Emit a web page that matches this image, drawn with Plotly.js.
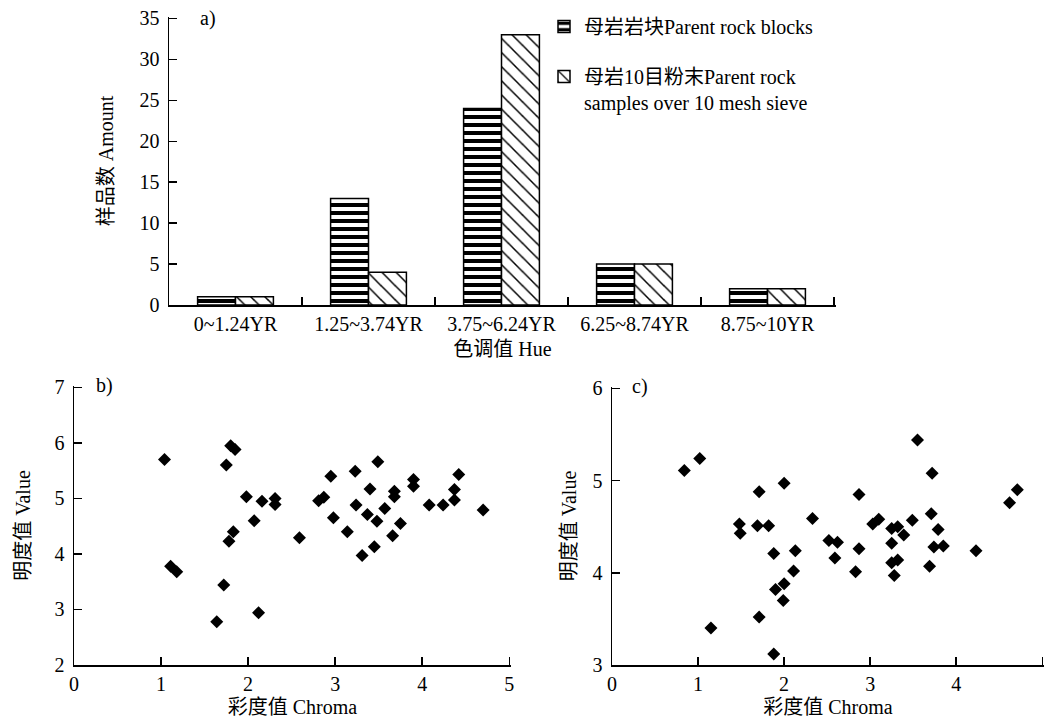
<!DOCTYPE html>
<html>
<head>
<meta charset="utf-8">
<script src="https://cdn.plot.ly/plotly-3.0.1.min.js"></script>
<style>html,body{margin:0;padding:0;background:#fff;}#chart{width:1045px;height:723px;}</style>
</head>
<body>
<div id="chart"></div>
<script>
// ---- data ----
const hueCategories = ['0~1.24YR', '1.25~3.74YR', '3.75~6.24YR', '6.25~8.74YR', '8.75~10YR'];
const blockCounts = [1, 13, 24, 5, 2];
const powderCounts = [1, 4, 33, 5, 2];

const blockChroma = [1.04, 1.11, 1.18, 1.80, 1.85, 1.75, 1.98, 2.07, 1.83, 1.78, 1.72, 1.64, 2.12,
  2.16, 2.31, 2.31, 2.59, 2.81, 2.87, 2.95, 2.98, 3.14, 3.23, 3.24, 3.31, 3.40, 3.37, 3.45, 3.49,
  3.48, 3.57, 3.66, 3.68, 3.68, 3.75, 3.90, 3.90, 4.08, 4.24, 4.37, 4.37, 4.42, 4.70];
const blockValue = [5.70, 3.78, 3.68, 5.95, 5.88, 5.60, 5.03, 4.60, 4.40, 4.23, 3.44, 2.78, 2.94,
  4.95, 5.00, 4.89, 4.29, 4.96, 5.02, 5.40, 4.65, 4.40, 5.49, 4.88, 3.97, 5.17, 4.71, 4.13, 5.66,
  4.59, 4.82, 4.33, 5.13, 5.03, 4.55, 5.34, 5.22, 4.88, 4.88, 4.97, 5.16, 5.43, 4.79];

const powderChroma = [0.84, 1.02, 1.15, 1.71, 1.48, 1.49, 1.69, 1.82, 1.88, 2.00, 1.90, 2.00, 1.99, 1.71, 1.88,
  2.13, 2.11, 2.33, 2.52, 2.62, 2.59, 2.87, 2.87, 2.83, 3.03, 3.10, 3.25, 3.32, 3.39, 3.25, 3.25, 3.32,
  3.28, 3.49, 3.55, 3.72, 3.71, 3.79, 3.74, 3.85, 3.69, 4.23, 4.62, 4.71];
const powderValue = [5.11, 5.24, 3.40, 4.88, 4.53, 4.43, 4.51, 4.51, 4.21, 4.97, 3.82, 3.88, 3.70, 3.52, 3.12,
  4.24, 4.02, 4.59, 4.35, 4.33, 4.16, 4.85, 4.26, 4.01, 4.53, 4.58, 4.48, 4.50, 4.41, 4.32, 4.11, 4.14,
  3.97, 4.57, 5.44, 5.08, 4.64, 4.47, 4.28, 4.29, 4.07, 4.24, 4.76, 4.90];

// ---- drawing ----
const FONT = "'Liberation Serif', 'Noto Sans CJK SC', serif";
const FS = 20;

const traces = [
  {
    type: 'bar', name: '母岩岩块Parent rock blocks',
    x: hueCategories, y: blockCounts, xaxis: 'x', yaxis: 'y',
    legendgroup: 'g1',
    marker: {color: '#ffffff', line: {color: '#000', width: 1.5},
      pattern: {shape: '-', fgcolor: '#000', bgcolor: '#fff', fgopacity: 1, size: 8, solidity: 0.5, fillmode: 'replace'}}
  },
  {
    type: 'bar', name: '母岩10目粉末Parent rock<br>samples over 10 mesh sieve',
    x: hueCategories, y: powderCounts, xaxis: 'x', yaxis: 'y',
    legendgroup: 'g2',
    marker: {color: '#ffffff', line: {color: '#000', width: 1.5},
      pattern: {shape: '\\', fgcolor: '#000', bgcolor: '#fff', fgopacity: 1, size: 10, solidity: 0.15, fillmode: 'replace'}}
  },
  {
    type: 'scatter', mode: 'markers', showlegend: false,
    x: blockChroma, y: blockValue, xaxis: 'x2', yaxis: 'y2',
    marker: {symbol: 'diamond', size: 10, color: '#000'}
  },
  {
    type: 'scatter', mode: 'markers', showlegend: false,
    x: powderChroma, y: powderValue, xaxis: 'x3', yaxis: 'y3',
    marker: {symbol: 'diamond', size: 10, color: '#000'}
  }
];

const axisCommon = {
  showline: true, linecolor: '#000', linewidth: 1.5,
  ticks: 'inside', ticklen: 8, tickwidth: 1.5, tickcolor: '#000',
  showgrid: false, zeroline: false, fixedrange: true,
  tickfont: {family: FONT, size: FS, color: '#000'}
};

const W = 1045, H = 723;
const fx = p => p / W;
const fy = p => (H - p) / H;

const layout = {
  width: W, height: H,
  margin: {l: 0, r: 0, t: 0, b: 0},
  paper_bgcolor: '#fff', plot_bgcolor: 'rgba(0,0,0,0)',
  font: {family: FONT, size: FS, color: '#000'},
  barmode: 'group', bargap: 0.43, bargroupgap: 0,
  showlegend: true,
  legend: {
    x: fx(544), y: fy(7), xanchor: 'left', yanchor: 'top',
    bgcolor: 'rgba(0,0,0,0)', borderwidth: 0, valign: 'top',
    font: {family: FONT, size: FS, color: '#000'},
    tracegroupgap: 21, itemwidth: 30
  },
  xaxis: Object.assign({}, axisCommon, {
    domain: [fx(169), fx(836)], anchor: 'y',
    type: 'category', tickson: 'boundaries', range: [-0.5, 4.515],
    title: {text: '色调值 Hue', font: {family: FONT, size: FS}, standoff: 8}
  }),
  yaxis: Object.assign({}, axisCommon, {
    domain: [fy(305), fy(17)], anchor: 'x',
    range: [0, 35.18], dtick: 5, ticklabelstandoff: 4,
    title: {text: '样品数 Amount', font: {family: FONT, size: FS}, standoff: 20}
  }),
  xaxis2: Object.assign({}, axisCommon, {
    domain: [fx(74), fx(511)], anchor: 'y2',
    range: [0, 5.02], dtick: 1,
    title: {text: '彩度值 Chroma', font: {family: FONT, size: FS}, standoff: 6}
  }),
  yaxis2: Object.assign({}, axisCommon, {
    domain: [fy(665), fy(386)], anchor: 'x2',
    range: [2, 7.025], dtick: 1, ticklabelstandoff: 4,
    title: {text: '明度值 Value', font: {family: FONT, size: FS}, standoff: 18}
  }),
  xaxis3: Object.assign({}, axisCommon, {
    domain: [fx(612), fx(1044)], anchor: 'y3',
    range: [0, 5.02], dtick: 1,
    title: {text: '彩度值 Chroma', font: {family: FONT, size: FS}, standoff: 6}
  }),
  yaxis3: Object.assign({}, axisCommon, {
    domain: [fy(665), fy(387)], anchor: 'x3',
    range: [3, 6.015], dtick: 1, ticklabelstandoff: 4,
    title: {text: '明度值 Value', font: {family: FONT, size: FS}, standoff: 10}
  }),
  annotations: [
    {text: 'a)', xref: 'paper', yref: 'paper', x: fx(198), y: fy(18), xanchor: 'left', yanchor: 'middle', showarrow: false, font: {family: FONT, size: FS}},
    {text: 'b)', xref: 'paper', yref: 'paper', x: fx(94), y: fy(385), xanchor: 'left', yanchor: 'middle', showarrow: false, font: {family: FONT, size: FS}},
    {text: 'c)', xref: 'paper', yref: 'paper', x: fx(630), y: fy(386), xanchor: 'left', yanchor: 'middle', showarrow: false, font: {family: FONT, size: FS}}
  ]
};

Plotly.newPlot('chart', traces, layout, {displayModeBar: false, staticPlot: true});
</script>
</body>
</html>
